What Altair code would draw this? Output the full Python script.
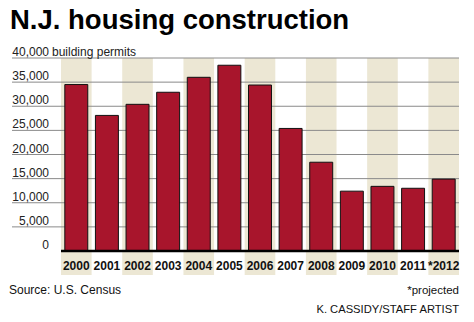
import altair as alt
import pandas as pd

years = ["2000", "2001", "2002", "2003", "2004", "2005", "2006",
         "2007", "2008", "2009", "2010", "2011", "*2012"]
permits = [34500, 28100, 30400, 32900, 36000, 38500, 34400,
           25400, 18400, 12400, 13400, 13000, 14900]
shaded_years = ["2000", "2002", "2004", "2006", "2008", "2010", "*2012"]
grid_values = [5000, 10000, 15000, 20000, 25000, 30000, 35000, 40000]
tick_values = [0, 5000, 10000, 15000, 20000, 25000, 30000, 35000, 40000]
tick_labels = ["0", "5,000", "10,000", "15,000", "20,000", "25,000",
               "30,000", "35,000", "40,000"]

W, H = 447, 217
BAR = "#a8152c"
SHADE = "#ece7d4"
FONT = "Liberation Sans"

bars_df = pd.DataFrame({"year": years, "permits": permits})
shade_df = pd.DataFrame({"year": shaded_years})
grid_df = pd.DataFrame({"v": grid_values})
ticks_df = pd.DataFrame({"v": tick_values, "label": tick_labels})

xscale = alt.Scale(domain=years, paddingInner=0, paddingOuter=0.8, align=1)
yscale = alt.Scale(domain=[-4974, 40000], nice=False, zero=False)

xaxis = alt.Axis(title=None, domain=False, ticks=False, grid=False,
                 labelFont=FONT, labelFontWeight="bold", labelFontSize=12,
                 labelColor="#111", labelAngle=0, labelBaseline="alphabetic",
                 labelPadding=-6)

shade = alt.Chart(shade_df).mark_rect(color=SHADE).encode(
    x=alt.X("year:O", scale=xscale, axis=xaxis, sort=years)
)

grid = alt.Chart(grid_df).mark_rule(color="#8a8a8a", strokeWidth=1).encode(
    y=alt.Y("v:Q", scale=yscale, axis=None),
    x=alt.value(0), x2=alt.value(W)
)

bars = alt.Chart(bars_df).mark_bar(
    color=BAR, stroke="#111", strokeWidth=1,
    width=alt.RelativeBandSize(0.75)
).encode(
    x=alt.X("year:O", scale=xscale, axis=xaxis, sort=years),
    y=alt.Y("permits:Q", scale=yscale, axis=None),
    y2=alt.datum(0)
)

baseline = alt.Chart(pd.DataFrame({"v": [0]})).mark_rule(
    color="#000", strokeWidth=2.5
).encode(
    y=alt.Y("v:Q", scale=yscale, axis=None),
    x=alt.value(49), x2=alt.value(W)
)

ylabels = alt.Chart(ticks_df).mark_text(
    align="right", baseline="alphabetic", dy=-2, font=FONT, fontSize=12,
    color="#222"
).encode(
    y=alt.Y("v:Q", scale=yscale, axis=None),
    x=alt.value(37),
    text="label:N"
)

unit = alt.Chart(pd.DataFrame({"v": [40000], "t": ["building permits"]})).mark_text(
    align="left", baseline="alphabetic", dy=-2, font=FONT, fontSize=12,
    color="#222"
).encode(
    y=alt.Y("v:Q", scale=yscale, axis=None),
    x=alt.value(40),
    text="t:N"
)

notes_df = pd.DataFrame({
    "t": ["N.J. housing construction", "Source: U.S. Census", "*projected",
          "K. CASSIDY/STAFF ARTIST"],
})

title = alt.Chart(notes_df.iloc[[0]]).mark_text(
    align="left", baseline="alphabetic", font=FONT, fontWeight="bold",
    fontSize=27.5, color="#000"
).encode(x=alt.value(-2), y=alt.value(-29), text="t:N")

source = alt.Chart(notes_df.iloc[[1]]).mark_text(
    align="left", baseline="alphabetic", font=FONT, fontSize=12, color="#111"
).encode(x=alt.value(-3), y=alt.value(236), text="t:N")

proj = alt.Chart(notes_df.iloc[[2]]).mark_text(
    align="right", baseline="alphabetic", font=FONT, fontSize=11.5, color="#111"
).encode(x=alt.value(W), y=alt.value(236), text="t:N")

credit = alt.Chart(notes_df.iloc[[3]]).mark_text(
    align="right", baseline="alphabetic", font=FONT, fontSize=11.2, color="#111"
).encode(x=alt.value(W), y=alt.value(255), text="t:N")

chart = alt.layer(
    shade, grid, bars, baseline, ylabels, unit, title, source, proj, credit
).properties(
    width=W, height=H,
    autosize=alt.AutoSizeParams(type="none"),
    padding={"left": 12, "top": 58, "right": 15, "bottom": 47},
    background="white"
).configure_view(stroke=None)

chart.save("out.html", embed_options={"renderer": "svg", "actions": False})
